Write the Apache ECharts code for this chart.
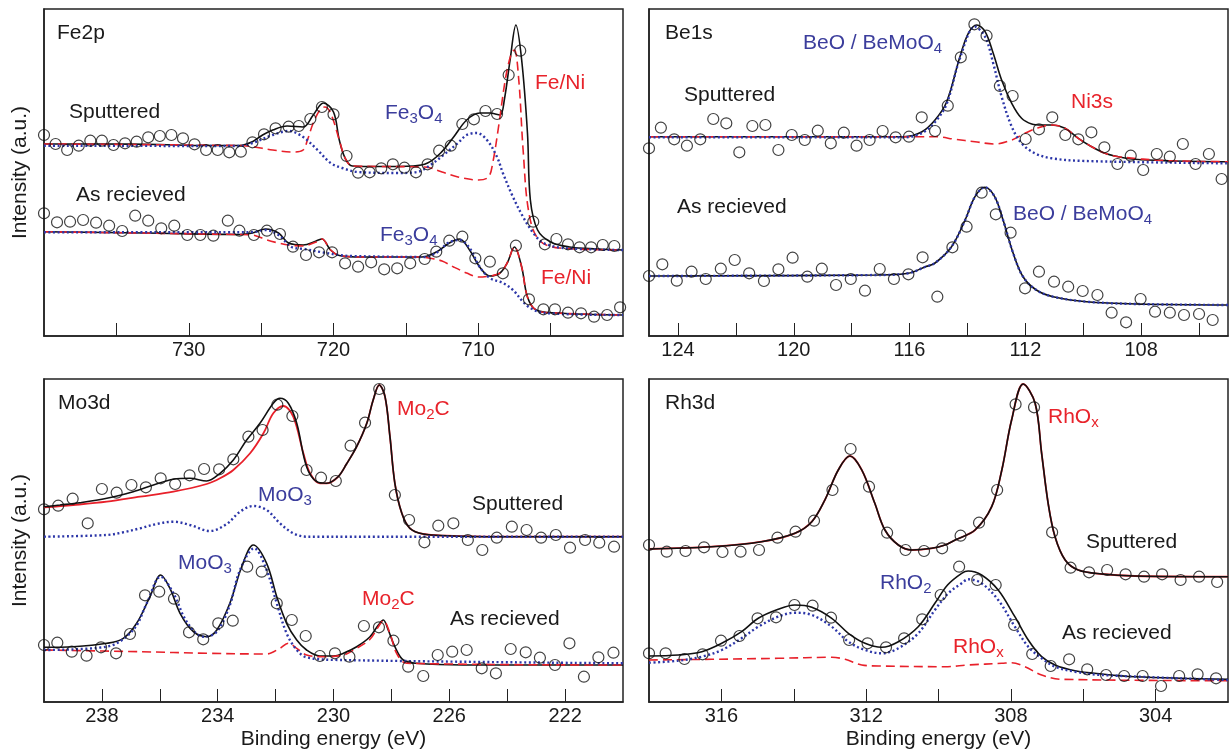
<!DOCTYPE html>
<html><head><meta charset="utf-8">
<script src="https://cdn.jsdelivr.net/npm/echarts@6/dist/echarts.min.js"></script>
<style>html,body{margin:0;padding:0;background:#fff}#c{width:1232px;height:753px}</style>
</head><body><div id="c"></div>
<script>
// ---------- Fe2p (binding energy eV, intensity a.u.) ----------
const fe_sp_fit = [[740,181],[736,181],[732,180.5],[729.2,179.5],[726.5,179.5],[725.6,183.3],[724.9,190],[724.2,195],[723.2,199],[722.1,198],[721.4,210],[720.7,222],[720.0,213],[719.6,185],[719.2,167],[718.7,159],[716.8,158.5],[714.5,159],[713.5,162],[712.6,172],[711.7,188],[710.8,205],[709.9,212],[709.2,212],[708.5,210],[708.2,225],[707.8,265],[707.4,300],[707.0,265],[706.6,192],[706.4,125],[705.9,95],[705.0,83],[703.7,78],[701.8,76],[700,75]];
const fe_sp_feni = [[740,181],[726.5,179.5],[725.6,178.3],[724.2,175],[722.8,173],[722.1,175],[721.8,185],[721.4,202],[720.9,216],[720.6,218],[720.2,212],[719.6,185],[719.2,167],[718.7,159],[716.8,158.5],[713.7,158],[712.5,153],[711.4,148],[710.0,145],[709.3,148],[709.0,162],[708.6,198],[708.1,248],[707.7,272],[707.5,275],[707.2,245],[706.9,175],[706.5,112],[705.8,85],[704.4,77],[700,75]];
const fe_sp_fe3o4 = [[740,179.3],[726.5,179],[725.6,182],[724.2,190],[723.1,194],[722.1,188],[721.1,175],[720.2,162],[719.4,157],[718.3,153],[715.5,152],[714.2,153],[713.3,160],[712.4,170],[711.4,182],[710.8,190],[710.1,192],[709.4,185],[708.7,168],[708.3,152],[707.6,128],[706.9,108],[706.2,92],[705.5,82],[704.1,77],[700,75]];
const fe_sp_data = [[740.0,190],[739.2,181],[738.4,175],[737.6,179.3],[736.8,184.3],[736.0,184.3],[735.2,180],[734.4,181.7],[733.6,183.3],[732.8,187.7],[732.0,189],[731.2,190],[730.4,186.7],[729.6,180.7],[728.8,175],[728.0,175],[727.2,172.7],[726.4,173.3],[725.6,182.7],[724.8,190.7],[724.0,196.7],[723.1,198.3],[722.4,199],[721.6,206],[720.8,218],[720.0,210.7],[719.1,169],[718.3,152.3],[717.5,152.7],[716.7,156.7],[715.9,160.7],[715.1,157.3],[714.3,152.7],[713.5,160.7],[712.7,174.3],[711.9,179.3],[711.1,201],[710.3,205.7],[709.5,214],[708.7,211],[707.9,250],[707.1,274.3],[706.2,103.3],[705.4,80.7],[704.6,86],[703.8,80.7],[703.0,77.7],[702.2,77.7],[701.4,80],[700.6,79]];
const fe_ar_fit = [[740,93.3],[733,92],[726.5,90.5],[725.6,92],[724.7,96],[723.8,92],[723.1,82],[722.1,80],[721.2,84],[720.8,86],[720.2,75],[719.6,69.5],[718.0,68],[713.9,68],[712.9,73],[712.0,82],[711.3,86],[710.6,75],[709.9,58],[709.2,49],[708.5,52],[708.0,62],[707.5,78],[707.0,58],[706.6,28],[706.0,15],[704.6,12],[700,10]];
const fe_ar_feni = [[740,93.3],[726.5,90.5],[725.6,90],[724.6,85],[723.8,82],[723.1,80],[722.1,79],[721.2,83],[720.8,86],[720.2,75],[719.6,69.5],[718.0,68],[713.9,68],[713.3,66.7],[712.5,64],[711.7,58],[710.8,52],[710.0,48],[709.2,49],[708.5,52],[708.0,62],[707.5,78],[707.0,58],[706.6,28],[706.0,15],[704.6,12],[700,10]];
const fe_ar_fe3o4 = [[740,92.7],[726.5,92.7],[725.5,93],[724.7,95],[723.8,90],[722.9,78],[722.0,76],[720.9,73],[719.6,70],[718.8,69],[713.7,68],[712.8,73],[712.1,82],[711.3,85],[710.6,77],[709.9,58],[709.2,47],[708.3,42],[707.6,35],[706.9,23],[706.4,17],[705.5,12],[700,10]];
const fe_ar_data = [[740.0,111.7],[739.1,102.7],[738.2,103.3],[737.3,105],[736.4,102.3],[735.5,99.3],[734.6,94],[733.7,109.3],[732.8,104.3],[731.9,96.7],[731.0,99.3],[730.1,90],[729.2,90],[728.3,89.3],[727.3,104.3],[726.5,94.3],[725.5,90],[724.6,94.3],[723.7,91],[722.8,78.3],[721.9,70],[721.0,72.7],[720.1,72.7],[719.2,61.7],[718.3,58.3],[717.4,62.7],[716.5,55.7],[715.6,56.7],[714.7,61.7],[713.7,66],[712.9,73.3],[712.0,84.3],[711.1,88.3],[710.2,66.7],[709.2,63.3],[708.3,51.7],[707.4,79.3],[706.5,25.7],[705.5,15.7],[704.7,15.7],[703.8,12.3],[702.9,11.7],[702.0,8.3],[701.1,10],[700.2,17.7]];

// ---------- Be1s ----------
const be_sp_fit = [[125,188.3],[116.2,188.3],[115.57,193.3],[115.12,205],[114.72,223],[114.26,268.3],[113.97,291.7],[113.68,300],[113.39,293.3],[113.11,271.7],[112.82,245],[112.47,221.7],[112.13,206.7],[111.78,201],[111.44,200],[111.09,200],[110.63,196.7],[110.17,186.7],[109.71,178.3],[109.25,171.7],[108.79,168.3],[108.21,165.7],[107.06,164.3],[105,163.3]];
const be_sp_beo = [[125,187.7],[116.2,187.7],[115.57,192],[115.12,203],[114.72,221],[114.26,266.7],[113.74,298.3],[113.39,288.3],[113.11,261.7],[112.82,228.3],[112.47,198.3],[112.13,181.7],[111.67,171.7],[111.09,166.7],[109.94,164],[105,161.7]];
const be_sp_ni3s = [[125,188.3],[115.1,188.3],[114.43,185.7],[113.74,183.3],[113.05,181],[112.47,185],[112.01,191.7],[111.55,197.3],[111.09,200],[110.63,196.7],[110.17,186.7],[109.71,178.3],[109.25,171.7],[108.79,168.3],[107.06,164.3],[105,163.3]];
const be_sp_data = [[125.0,176.7],[124.59,197.3],[124.13,185.7],[123.69,179.3],[123.23,185.7],[122.78,206],[122.33,201.7],[121.88,172.7],[121.43,199],[120.98,200],[120.53,175],[120.07,190],[119.62,185],[119.17,194.3],[118.72,181.7],[118.27,192.3],[117.83,179.3],[117.38,185],[116.93,194],[116.48,187.7],[116.02,188.3],[115.58,207.7],[115.12,194],[114.68,219.3],[114.23,267.7],[113.76,300.7],[113.34,289.3],[112.88,239],[112.44,229],[111.99,186],[111.53,195.7],[111.07,207.7],[110.62,190],[110.17,185.7],[109.72,192.7],[109.27,177.7],[108.82,161],[108.36,169.3],[107.93,155],[107.46,171],[107.01,168.3],[106.56,181],[106.12,161],[105.66,171],[105.22,146]];
const be_ar_fit = [[125,49],[117.1,50],[116.05,51.7],[115.47,58],[115.12,62],[114.55,78.3],[114.08,105],[113.74,128.3],[113.4,137.7],[113.06,128.3],[112.77,105],[112.42,71.7],[112.08,48.3],[111.62,35],[111.04,28.3],[109.89,23.3],[108.16,21],[105,20]];
const be_ar_data = [[125.0,49],[124.54,60.7],[124.04,44.3],[123.53,53.3],[123.04,46],[122.52,56.3],[122.04,65],[121.54,51.7],[121.03,44],[120.53,55.7],[120.04,67.3],[119.53,48.3],[119.03,56.3],[118.54,40],[118.03,46],[117.54,34.3],[117.03,56],[116.54,46],[116.04,50.7],[115.55,67.7],[115.04,28.3],[114.52,77.7],[114.03,98.3],[113.51,132.3],[113.02,110.7],[112.51,92.3],[112.01,36.7],[111.53,53.3],[111.01,43.3],[110.52,38.3],[110.02,34],[109.51,30],[109.02,12.3],[108.52,2.7],[108.02,26],[107.52,13.3],[107.01,12.3],[106.52,10],[106.0,11],[105.53,5]];

// ---------- Mo3d ----------
const mo_sp_fit = [[240,195.3],[239.45,197],[238.76,199.3],[237.83,203.7],[236.92,210.3],[236.22,217],[235.53,222.7],[234.96,223.7],[234.38,221],[233.92,228.7],[233.46,242],[233.0,262],[232.54,278.7],[232.08,298.7],[231.85,303.7],[231.56,298.7],[231.27,278.7],[230.93,235.3],[230.58,220.3],[230.24,218.7],[229.85,225],[229.55,238],[229.2,255.3],[228.85,278.7],[228.63,302],[228.42,317],[228.22,305.3],[228.05,265.3],[227.88,218.7],[227.64,188.7],[227.36,173.7],[226.9,168],[226.09,166.3],[224.36,165.3],[220,165.3]];
const mo_sp_mo2c = [[240,194.7],[238.99,197],[237.83,200.3],[236.68,205.3],[235.53,210.3],[234.38,218],[233.92,223.7],[233.46,232],[232.88,248.7],[232.42,268.7],[232.08,288.7],[231.73,296],[231.39,285.3],[231.04,248.7],[230.81,228.7],[230.47,218.7],[230.24,218.7],[229.85,225],[229.55,238],[229.2,255.3],[228.85,278.7],[228.63,302],[228.42,317],[228.22,305.3],[228.05,265.3],[227.88,218.7],[227.64,188.7],[227.36,173.7],[226.9,168],[226.09,166.3],[224.36,165.3],[220,165.3]];
const mo_sp_moo3 = [[240,165.3],[237.83,167],[237.26,169.7],[236.68,173.7],[236.11,178],[235.53,180.3],[234.96,177],[234.27,171],[233.69,178],[233.23,190.3],[232.77,196],[232.31,192],[231.85,178.7],[231.39,168.7],[230.93,165.3],[220,165.3]];
const mo_sp_data = [[240.0,192.7],[239.51,196.3],[239.01,203.3],[238.49,178.7],[238.0,213],[237.49,209.3],[236.98,217],[236.48,214.7],[235.97,223.7],[235.47,218],[234.97,226.7],[234.47,233],[233.95,232.7],[233.46,242.7],[232.94,265.3],[232.45,272],[231.94,297.3],[231.42,286],[230.93,232],[230.43,224.3],[229.92,221],[229.41,256.3],[228.91,279.3],[228.42,313],[227.88,207],[227.39,182],[226.86,159.7],[226.38,176.3],[225.86,178.7],[225.36,162],[224.86,152],[224.36,164.3],[223.84,175.3],[223.33,172],[222.83,164.3],[222.32,167],[221.83,154.3],[221.31,162],[220.82,159.3],[220.31,155.3]];
const mo_ar_fit = [[240,54.7],[238.99,55.3],[237.83,58.7],[237.26,63.7],[236.8,78.7],[236.34,105.3],[235.97,127],[235.65,113.7],[235.3,88.7],[234.84,70.3],[234.38,65.3],[234.03,72],[233.58,98.7],[233.17,135.3],[232.77,157],[232.31,138.7],[231.96,105.3],[231.62,78.7],[231.27,62],[230.93,52],[230.47,46],[230.0,46],[229.66,48.7],[229.2,55.3],[228.74,65.3],[228.45,77],[228.28,82],[228.11,72],[227.88,55.3],[227.59,42],[227.13,38.7],[225.52,37],[220,37]];
const mo_ar_moo3 = [[240,52],[237.83,55.3],[236.92,72],[236.45,98.7],[235.97,125.3],[235.53,108.7],[235.07,80.3],[234.5,65.3],[234.03,70.3],[233.58,97],[233.23,132],[232.74,153.7],[232.31,132],[231.96,98.7],[231.62,68.7],[231.27,52],[230.93,44.7],[229.78,42],[220,38.7]];
const mo_ar_mo2c = [[240,52],[236.68,50.3],[234.38,48.7],[232.31,48],[231.85,53.7],[231.56,58.7],[231.27,53.7],[230.93,47],[230.35,45.3],[229.66,47],[229.2,53.7],[228.74,62.7],[228.45,75.3],[228.28,81.3],[228.05,68.7],[227.82,48.7],[227.47,38.7],[220,37]];
const mo_ar_data = [[240,57],[239.54,59.3],[239.04,50.3],[238.53,46.3],[238.03,54.7],[237.51,48.7],[237.03,68],[236.51,106.7],[236.02,110.3],[235.51,103.3],[234.99,69.7],[234.5,62.7],[233.98,78.7],[233.48,81.3],[232.98,135.3],[232.48,130.3],[231.96,98.7],[231.44,82],[230.96,66],[230.47,46],[229.95,48.7],[229.45,45.3],[228.95,76],[228.43,74.7],[227.93,61.3],[227.42,35.3],[226.9,26],[226.4,47],[225.9,50.3],[225.4,52],[224.88,33.7],[224.39,28.7],[223.88,53],[223.36,49.7],[222.87,44.3],[222.35,37],[221.85,58.7],[221.35,25.3],[220.85,44.7],[220.33,49.3]];

// ---------- Rh3d ----------
const rh_sp_fit = [[318,153],[316.27,155.3],[314.89,160.3],[313.97,168.7],[313.5,180.3],[313.14,202],[312.77,232],[312.45,246],[312.12,232],[311.76,198.7],[311.48,172],[311.11,157],[310.74,152],[310.19,153.7],[309.82,157],[309.54,162],[308.99,172],[308.53,195.3],[308.25,232],[307.98,282],[307.66,318],[307.33,298.7],[307.15,248.7],[306.97,198.7],[306.78,165.3],[306.5,142],[306.14,132],[305.49,128],[304.57,126],[302,125.3]];
const rh_sp_data = [[318,157],[317.51,150.3],[316.99,151],[316.48,154.7],[315.97,150],[315.47,150.3],[314.96,152],[314.45,164.3],[313.95,170.3],[313.44,181.3],[312.93,212],[312.43,253],[311.92,215.3],[311.42,169.3],[310.91,152],[310.4,151],[309.9,153.7],[309.39,166.3],[308.88,179.3],[308.38,212],[307.87,297.7],[307.36,294.7],[306.86,169.7],[306.35,134.3],[305.84,129.7],[305.34,132],[304.83,127.7],[304.32,125.3],[303.82,127.7],[303.31,122],[302.8,125.3],[302.3,120]];
const rh_ar_fit = [[318,46],[317.19,47],[316.54,50.3],[315.99,58.7],[315.44,70.3],[314.98,83.7],[314.43,92.7],[313.97,97],[313.5,94.7],[312.95,83.7],[312.49,68.7],[312.03,58.7],[311.57,54.7],[311.11,60.3],[310.56,75.3],[310.1,98.7],[309.75,117],[309.36,128.7],[309.18,131],[308.81,127],[308.35,112],[307.89,85.3],[307.52,62],[307.15,45.3],[306.78,37],[306.23,31.3],[305.49,28],[304.57,25.3],[302,22.7]];
const rh_ar_rho2 = [[318,39.3],[317.19,41.3],[316.54,45.3],[315.99,52],[315.44,63.7],[314.98,75.3],[314.43,85.3],[313.97,89.3],[313.5,87],[312.95,75.3],[312.49,60.3],[312.03,52],[311.57,48.7],[311.11,53.7],[310.56,68.7],[310.1,92],[309.73,108.7],[309.36,118.7],[309.18,122.7],[308.81,118.7],[308.35,102],[307.89,75.3],[307.52,55.3],[307.15,43.7],[306.78,35.3],[306.23,30.3],[305.49,27],[302,22]];
const rh_ar_rhox = [[318,42],[316.27,42.7],[314.43,43.7],[312.95,44.7],[312.58,42.7],[312.12,37],[311.66,36],[309.82,35.3],[309.18,37],[308.25,38.7],[307.98,39.3],[307.61,35.3],[307.15,27],[306.6,22.7],[302,21.3]];
const rh_ar_data = [[318,48.7],[317.54,48.7],[317.02,43],[316.52,47.7],[316.01,61.3],[315.5,66],[315.0,83.7],[314.49,84.7],[313.98,97],[313.48,96.3],[312.97,84.3],[312.47,62],[311.96,58.7],[311.45,54.7],[310.95,63.7],[310.45,82.7],[309.94,107],[309.43,135.3],[308.93,122],[308.42,117],[307.91,77],[307.41,48],[306.9,36],[306.39,42.7],[305.89,32.7],[305.37,27],[304.87,26],[304.36,26],[303.85,16],[303.35,26],[302.84,27.7],[302.33,23.7]];

// ---------- axis ticks / labels ----------
const fe_ticks = [705,710,715,720,725,730,735];
const fe_labels = [710,720,730];
const be_ticks = [106,108,110,112,114,116,118,120,122,124];
const be_labels = [108,112,116,120,124];
const mo_ticks = [222,224,226,228,230,232,234,236,238];
const mo_labels = [222,226,230,234,238];
const rh_ticks = [304,306,308,310,312,314,316];
const rh_labels = [304,308,312,316];

const FONT = "'Liberation Sans', Arial, Helvetica, sans-serif";
const BLACK = '#111', RED = '#e8202a', BLUE = '#2c36a8', BLUE_T = '#3b3d9c', RED_T = '#e8232b';

const chart = echarts.init(document.getElementById('c'), null, {renderer: 'canvas'});

const grids = [
  {left: 44, top: 9, width: 579, height: 327},
  {left: 649, top: 9, width: 579, height: 327},
  {left: 44, top: 379, width: 579, height: 323},
  {left: 649, top: 379, width: 579, height: 323}
].map(g => Object.assign(g, {show: true, borderColor: '#222', borderWidth: 1.5, containLabel: false, outerBoundsMode: 'none'}));

const ranges = [[700,740],[105,125],[220,240],[302,318]];
const tickSets = [[fe_ticks, fe_labels],[be_ticks, be_labels],[mo_ticks, mo_labels],[rh_ticks, rh_labels]];

const xAxes = ranges.map((r, i) => ({
  type: 'value', gridIndex: i, min: r[0], max: r[1], inverse: true, position: 'bottom',
  axisLine: {show: true, onZero: false, lineStyle: {color: '#222', width: 1.5}},
  axisTick: {show: true, inside: true, length: 13, customValues: tickSets[i][0], lineStyle: {color: '#222', width: 1}},
  axisLabel: {show: true, customValues: tickSets[i][1], margin: 4, fontSize: 20, color: '#1a1a1a', fontFamily: FONT},
  splitLine: {show: false},
  name: i >= 2 ? 'Binding energy (eV)' : '',
  nameLocation: 'middle', nameGap: 27,
  nameTextStyle: {fontSize: 21, color: '#1a1a1a', fontFamily: FONT}
}));

const yAxes = [0,1,2,3].map(i => ({
  type: 'value', gridIndex: i, min: i < 2 ? -11 : 0, max: i < 2 ? 316 : 323, position: 'left',
  axisLine: {show: true, onZero: false, lineStyle: {color: '#222', width: 1.5}},
  axisTick: {show: false}, axisLabel: {show: false}, splitLine: {show: false},
  name: (i === 0 || i === 2) ? 'Intensity (a.u.)' : '',
  nameLocation: 'middle', nameRotate: 90, nameGap: 13,
  nameTextStyle: {fontSize: 21, color: '#1a1a1a', fontFamily: FONT}
}));

function line(idx, data, kind) {
  const st = {
    fit: {color: BLACK, width: 1.6, type: 'solid'},
    redSolid: {color: RED, width: 1.8, type: 'solid'},
    redDash: {color: RED, width: 1.6, type: [9, 5]},
    blueDot: {color: BLUE, width: 2.4, type: [2, 2.6]}
  }[kind];
  return {type: 'line', xAxisIndex: idx, yAxisIndex: idx, data: data, showSymbol: false,
    smooth: 0.35, lineStyle: st, itemStyle: {color: st.color}, z: kind === 'fit' ? 3 : 4, silent: true};
}
function pts(idx, data) {
  return {type: 'scatter', xAxisIndex: idx, yAxisIndex: idx, data: data, symbol: 'circle', symbolSize: 11,
    itemStyle: {color: 'rgba(0,0,0,0)', borderColor: '#111', borderWidth: 1.2}, z: 5, silent: true};
}

const series = [
  line(0, fe_sp_fit, 'fit'), line(0, fe_sp_feni, 'redDash'), line(0, fe_sp_fe3o4, 'blueDot'), pts(0, fe_sp_data),
  line(0, fe_ar_fit, 'fit'), line(0, fe_ar_feni, 'redDash'), line(0, fe_ar_fe3o4, 'blueDot'), pts(0, fe_ar_data),
  line(1, be_sp_fit, 'fit'), line(1, be_sp_ni3s, 'redDash'), line(1, be_sp_beo, 'blueDot'), pts(1, be_sp_data),
  line(1, be_ar_fit, 'fit'), line(1, be_ar_fit, 'blueDot'), pts(1, be_ar_data),
  Object.assign(line(2, mo_sp_mo2c, 'redSolid'), {z: 2}), line(2, mo_sp_fit, 'fit'), line(2, mo_sp_moo3, 'blueDot'), pts(2, mo_sp_data),
  line(2, mo_ar_fit, 'fit'), line(2, mo_ar_mo2c, 'redDash'), line(2, mo_ar_moo3, 'blueDot'), pts(2, mo_ar_data),
  Object.assign(line(3, rh_sp_fit, 'redSolid'), {z: 2}), line(3, rh_sp_fit, 'fit'), pts(3, rh_sp_data),
  line(3, rh_ar_fit, 'fit'), line(3, rh_ar_rhox, 'redDash'), line(3, rh_ar_rho2, 'blueDot'), pts(3, rh_ar_data)
];

function richStyle(color) {
  return {
    n: {fontSize: 21, fontFamily: FONT, fill: color, lineHeight: 26, verticalAlign: 'middle'},
    s: {fontSize: 15, fontFamily: FONT, fill: color, lineHeight: 16, verticalAlign: 'bottom'}
  };
}
function label(x, y, text, color) {
  return {type: 'text', x: x, y: y, z: 10, silent: true,
    style: {text: text, rich: richStyle(color), fill: color, font: '21px ' + FONT,
      textAlign: 'left', textVerticalAlign: 'middle', align: 'left', verticalAlign: 'middle'}};
}
const K = '#1a1a1a';
const graphic = [
  label(57, 33, '{n|Fe2p}', K),
  label(69, 112, '{n|Sputtered}', K),
  label(76, 195, '{n|As recieved}', K),
  label(385, 113, '{n|Fe}{s|3}{n|O}{s|4}', BLUE_T),
  label(535, 83, '{n|Fe/Ni}', RED_T),
  label(380, 235, '{n|Fe}{s|3}{n|O}{s|4}', BLUE_T),
  label(541, 278, '{n|Fe/Ni}', RED_T),

  label(665, 33, '{n|Be1s}', K),
  label(684, 95, '{n|Sputtered}', K),
  label(677, 207, '{n|As recieved}', K),
  label(803, 43, '{n|BeO / BeMoO}{s|4}', BLUE_T),
  label(1071, 102, '{n|Ni3s}', RED_T),
  label(1013, 214, '{n|BeO / BeMoO}{s|4}', BLUE_T),

  label(58, 403, '{n|Mo3d}', K),
  label(258, 495, '{n|MoO}{s|3}', BLUE_T),
  label(397, 409, '{n|Mo}{s|2}{n|C}', RED_T),
  label(472, 504, '{n|Sputtered}', K),
  label(178, 563, '{n|MoO}{s|3}', BLUE_T),
  label(362, 599, '{n|Mo}{s|2}{n|C}', RED_T),
  label(450, 619, '{n|As recieved}', K),

  label(665, 403, '{n|Rh3d}', K),
  label(1048, 417, '{n|RhO}{s|x}', RED_T),
  label(1086, 542, '{n|Sputtered}', K),
  label(880, 583, '{n|RhO}{s|2}', BLUE_T),
  label(1062, 633, '{n|As recieved}', K),
  label(953, 647, '{n|RhO}{s|x}', RED_T)
];

chart.setOption({
  animation: false,
  backgroundColor: '#fff',
  textStyle: {fontFamily: FONT},
  grid: grids, xAxis: xAxes, yAxis: yAxes, series: series, graphic: graphic
});
</script></body></html>
